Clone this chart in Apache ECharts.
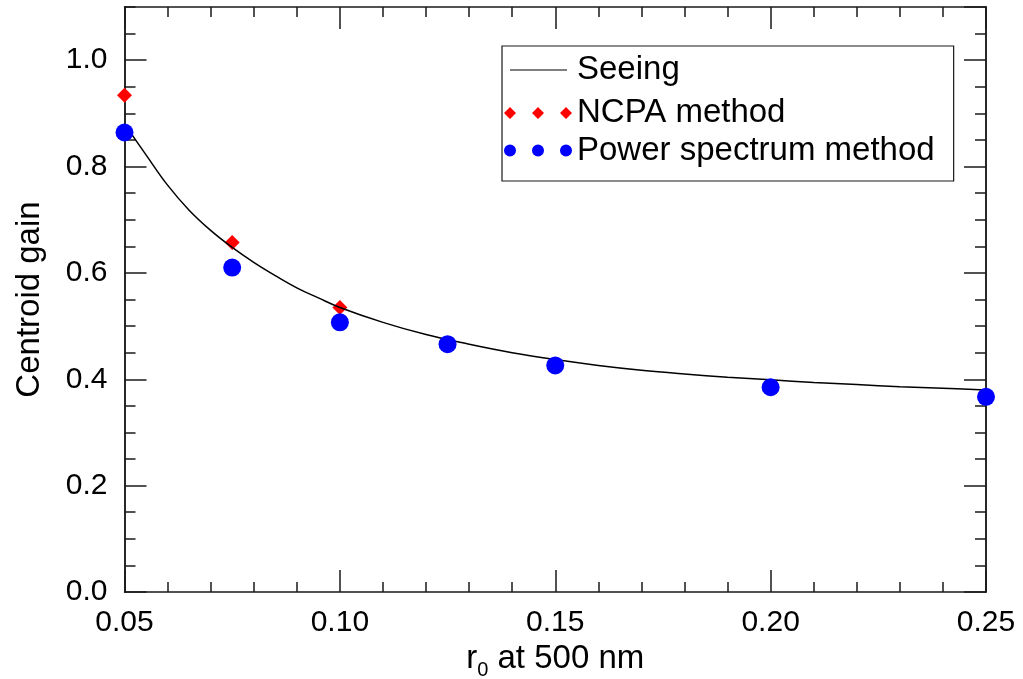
<!DOCTYPE html>
<html>
<head>
<meta charset="utf-8">
<script src="https://cdn.jsdelivr.net/npm/echarts@6/dist/echarts.min.js"></script>
<style>
  html, body { margin: 0; padding: 0; background: #fff; }
  #chart { width: 1023px; height: 679px; }
</style>
</head>
<body>
<div id="chart"></div>
<script>
// Fried-parameter values (m) at which the centroid gain was measured
const r0Points = [0.05, 0.075, 0.10, 0.125, 0.15, 0.20, 0.25];
const ncpaR0 = [0.05, 0.075, 0.10];
const ncpaGain = [0.934, 0.657, 0.535];
const powerGain = [0.864, 0.610, 0.507, 0.466, 0.426, 0.385, 0.367];

// Seeing-limited model curve
const seeingR0 = [0.050, 0.055, 0.060, 0.065, 0.070, 0.075, 0.080, 0.085, 0.090, 0.095,
                  0.100, 0.110, 0.120, 0.130, 0.140, 0.150, 0.160, 0.170, 0.180, 0.190,
                  0.200, 0.210, 0.220, 0.230, 0.240, 0.250];
const seeingGain = [0.880, 0.822, 0.765, 0.718, 0.680, 0.648, 0.620, 0.595, 0.572, 0.553,
                    0.535, 0.507, 0.484, 0.466, 0.450, 0.437, 0.426, 0.417, 0.410, 0.404,
                    0.399, 0.394, 0.390, 0.386, 0.383, 0.380];

const xTickStep = 0.05;
const yMajorStep = 0.2;
const yMinorStep = 0.05;

const FONT = '"Liberation Sans", Arial, Helvetica, sans-serif';
const INK = '#1a1a1a';
const TICK_FONT = 30;
const TITLE_FONT = 33;

const zip = (xs, ys) => xs.map((x, i) => [x, ys[i]]);

const axisLine = { show: true, onZero: false, lineStyle: { color: INK, width: 1.5 } };

function xAxisDef(pos, withLabels) {
  return {
    type: 'value', position: pos, min: 0.05, max: 0.25, interval: xTickStep,
    axisLine: axisLine,
    axisTick: { show: true, inside: true, length: 22, lineStyle: { color: INK, width: 1.5 } },
    minorTick: { show: true, splitNumber: 5, length: 10, lineStyle: { color: INK, width: 1.5 } },
    splitLine: { show: false }, minorSplitLine: { show: false },
    axisLabel: withLabels ? {
      show: true, margin: 16, color: '#000', fontSize: TICK_FONT, fontFamily: FONT,
      formatter: v => v.toFixed(2)
    } : { show: false },
    name: withLabels ? '{a|r}{s|0}{a| at 500 nm}' : '',
    nameLocation: 'middle', nameGap: 48,
    nameTextStyle: {
      rich: {
        a: { fontSize: TITLE_FONT, fontFamily: FONT, color: '#000' },
        s: { fontSize: 20, fontFamily: FONT, color: '#000', verticalAlign: 'bottom', padding: [0, 0, -5, 0] }
      }
    }
  };
}

function yAxisDef(pos, step, tickLen, withLabels) {
  return {
    type: 'value', position: pos, min: 0, max: 1.1, interval: step,
    axisLine: axisLine,
    axisTick: { show: true, inside: true, length: tickLen, lineStyle: { color: INK, width: 1.5 } },
    splitLine: { show: false },
    axisLabel: withLabels ? {
      show: true, margin: 17, color: '#000', fontSize: TICK_FONT, fontFamily: FONT,
      showMaxLabel: false, formatter: v => v.toFixed(1)
    } : { show: false },
    name: withLabels ? 'Centroid gain' : '',
    nameLocation: 'middle', nameGap: 78, nameRotate: 90,
    nameTextStyle: { fontSize: TITLE_FONT, fontFamily: FONT, color: '#000' }
  };
}

// Legend glyphs: a row of three markers, or a short line
const diamondRow = 'path://M0,6L6,0L12,6L6,12Z M28,6L34,0L40,6L34,12Z M56,6L62,0L68,6L62,12Z';
const dotRow = 'path://M0,6A6,6 0 1,1 12,6A6,6 0 1,1 0,6Z M28,6A6,6 0 1,1 40,6A6,6 0 1,1 28,6Z M56,6A6,6 0 1,1 68,6A6,6 0 1,1 56,6Z';
const lineRow = 'path://M0,0 M68,12 M6,5.4L63,5.4L63,6.6L6,6.6Z';

const chart = echarts.init(document.getElementById('chart'), null, { renderer: 'canvas' });

chart.setOption({
  backgroundColor: '#fff',
  animation: false,
  textStyle: { fontFamily: FONT },
  grid: { left: 124.5, right: 37, top: 7, bottom: 87, containLabel: false, outerBoundsMode: 'none' },
  xAxis: [xAxisDef('bottom', true), xAxisDef('top', false)],
  yAxis: [
    yAxisDef('left', yMajorStep, 22, true),
    yAxisDef('left', yMinorStep, 11, false),
    yAxisDef('right', yMajorStep, 22, false),
    yAxisDef('right', yMinorStep, 11, false)
  ],
  legend: {
    orient: 'vertical', left: 502, top: 46,
    padding: [2, 19, 14, 2],
    itemWidth: 68, itemHeight: 12, itemGap: 3,
    borderColor: INK, borderWidth: 1.2, backgroundColor: '#fff',
    textStyle: { fontSize: TITLE_FONT, fontFamily: FONT, color: '#000' },
    selectedMode: false,
    data: [
      { name: 'Seeing', icon: lineRow, textStyle: { lineHeight: 44 } },
      { name: 'NCPA method', icon: diamondRow, textStyle: { lineHeight: 36 } },
      { name: 'Power spectrum method', icon: dotRow, textStyle: { lineHeight: 28 } }
    ]
  },
  series: [
    {
      name: 'Seeing', type: 'line', xAxisIndex: 0, yAxisIndex: 0,
      data: zip(seeingR0, seeingGain), smooth: 0.4, showSymbol: false, symbol: 'none',
      color: '#000', lineStyle: { color: '#000', width: 1.5 }, z: 3
    },
    {
      name: 'NCPA method', type: 'scatter', xAxisIndex: 0, yAxisIndex: 0,
      data: zip(ncpaR0, ncpaGain), symbol: 'diamond', symbolSize: [15, 15],
      color: '#ff0000', itemStyle: { color: '#ff0000', opacity: 1 }, clip: false, z: 2
    },
    {
      name: 'Power spectrum method', type: 'scatter', xAxisIndex: 0, yAxisIndex: 0,
      data: zip(r0Points, powerGain), symbol: 'circle', symbolSize: 18,
      color: '#0000ff', itemStyle: { color: '#0000ff', opacity: 1 }, clip: false, z: 4
    }
  ]
});
</script>
</body>
</html>
